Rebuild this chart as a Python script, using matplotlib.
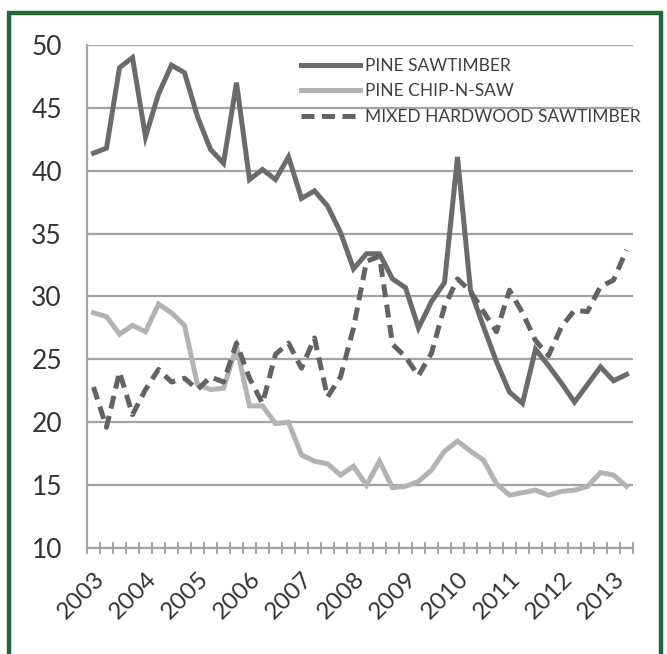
import matplotlib
matplotlib.use("Agg")
import matplotlib.pyplot as plt
from matplotlib.patches import Rectangle
from matplotlib.transforms import blended_transform_factory, offset_copy
import numpy as np

plt.rcParams['font.family'] = ['Lato', 'DejaVu Sans']

years = ['2003', '2004', '2005', '2006', '2007', '2008', '2009', '2010', '2011', '2012', '2013']

pine_sawtimber = [41.4, 41.8, 48.2, 49.0, 42.7, 46.1, 48.4, 47.8, 44.3, 41.7, 40.6, 47.0,
                  39.3, 40.1, 39.3, 41.1, 37.8, 38.4, 37.2, 35.1, 32.2, 33.4, 33.4, 31.4,
                  30.7, 27.5, 29.6, 31.1, 41.1, 30.5, 27.6, 24.8, 22.4, 21.5, 25.8, 24.5,
                  23.1, 21.6, 23.0, 24.4, 23.3, 23.8]

pine_chip_n_saw = [28.7, 28.4, 27.0, 27.7, 27.2, 29.4, 28.7, 27.7, 23.0, 22.6, 22.7, 26.0,
                   21.3, 21.3, 19.9, 20.0, 17.4, 16.9, 16.7, 15.8, 16.5, 15.0, 16.9, 14.8,
                   14.9, 15.3, 16.2, 17.7, 18.5, 17.7, 17.0, 15.1, 14.2, 14.4, 14.6, 14.2,
                   14.5, 14.6, 14.9, 16.0, 15.8, 14.9]

mixed_hardwood = [22.8, 19.6, 24.0, 20.6, 22.6, 24.2, 23.2, 23.5, 22.6, 23.6, 23.2, 26.3,
                  23.5, 21.5, 25.4, 26.3, 24.3, 26.7, 22.0, 23.6, 27.5, 32.8, 33.2, 26.2,
                  25.2, 23.7, 25.5, 29.2, 31.4, 30.4, 28.8, 27.2, 30.5, 28.7, 26.5, 25.3,
                  27.6, 28.9, 28.8, 30.8, 31.3, 33.7]

labels = ['PINE SAWTIMBER', 'PINE CHIP-N-SAW', 'MIXED HARDWOOD SAWTIMBER']

W, H = 667, 654
fig = plt.figure(figsize=(W / 100, H / 100), dpi=100)
fig.patch.set_facecolor('white')

# green frame
fig.patches.append(Rectangle((9 / W, -0.05), (661 - 9) / W, 1.05 - 13 / H,
                             transform=fig.transFigure, fill=False,
                             edgecolor='#21683a', linewidth=3.2, zorder=0))

ax = fig.add_axes([87 / W, 1 - 548 / H, (633 - 87) / W, (548 - 45) / H])
ax.set_facecolor('none')

x = np.arange(len(pine_sawtimber))
grid_c = '#a3a3a3'
ax.plot(x, pine_sawtimber, color='#6b6b6b', lw=3.6, solid_joinstyle='miter', label=labels[0], zorder=3)
ax.plot(x, pine_chip_n_saw, color='#b3b3b3', lw=3.6, solid_joinstyle='miter', label=labels[1], zorder=3)
ax.plot(x, mixed_hardwood, color='#636363', lw=3.6, dashes=(2.6, 1.5), label=labels[2], zorder=4)

ax.set_xlim(-0.5, len(x) - 0.5)
ax.set_ylim(10, 50)
ax.set_yticks(np.arange(10, 51, 5))
ax.yaxis.grid(True, color=grid_c, lw=1.6)
ax.set_axisbelow(True)
for s in ['top', 'right']:
    ax.spines[s].set_visible(False)
for s in ['left', 'bottom']:
    ax.spines[s].set_color(grid_c)
    ax.spines[s].set_linewidth(1.6)

ax.tick_params(axis='y', length=0, pad=18, labelsize=19, labelcolor='#333333')
ax.set_xticks(np.arange(-0.5, len(x), 1.0))
ax.tick_params(axis='x', direction='inout', length=8, width=1.4, color=grid_c, labelbottom=False)

trans = blended_transform_factory(ax.transData, ax.transAxes)
trans = offset_copy(trans, fig=fig, x=0, y=-20, units='dots')
for i, yr in enumerate(years):
    ax.text(i * 4, 0, yr, transform=trans, rotation=45, ha='right', va='top',
            rotation_mode='anchor', fontsize=17.5, color='#333333')

leg = ax.legend(loc='upper left', bbox_to_anchor=((292 - 87) / 546, 1 - 4 / 503), frameon=False,
                fontsize=12.5, handlelength=3.4, handletextpad=0.28, labelspacing=0.55,
                borderpad=0, labelcolor='#404040')

fig.savefig('out.png', dpi=100, facecolor='white')
